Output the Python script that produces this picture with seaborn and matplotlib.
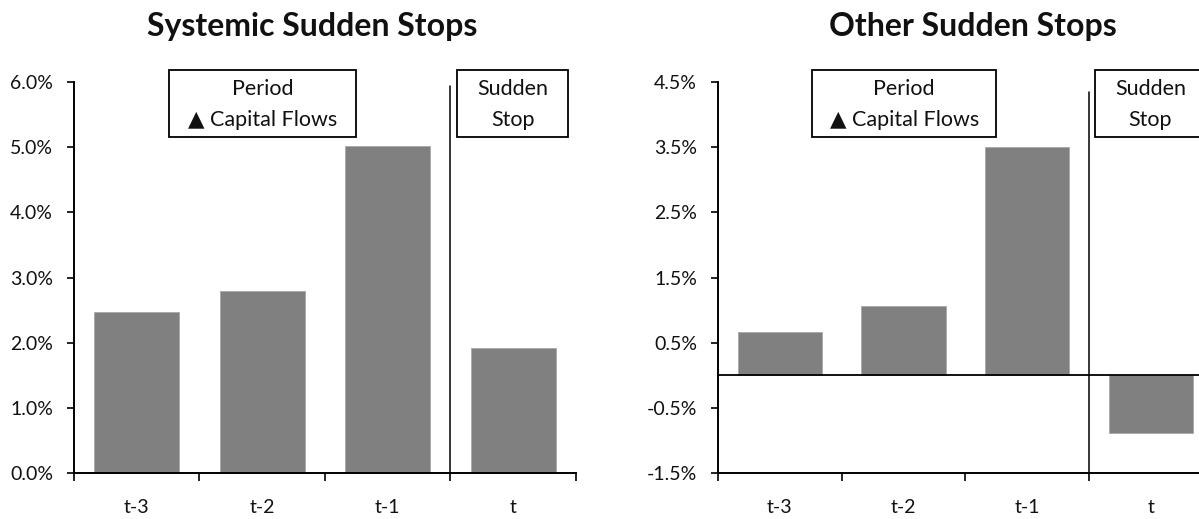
import matplotlib
matplotlib.use("Agg")
import matplotlib.pyplot as plt
from matplotlib.patches import Rectangle
from matplotlib.ticker import FixedLocator, FuncFormatter
import seaborn as sns
import pandas as pd

sns.set_style("white")
plt.rcParams["font.family"] = ["Lato", "DejaVu Sans"]

# Capital-flow change by period around the sudden stop (% of GDP)
periods = ["t-3", "t-2", "t-1", "t"]
systemic_values = [2.47, 2.79, 5.02, 1.92]
other_values = [0.66, 1.06, 3.50, -0.88]

systemic_ticks = [0.0, 1.0, 2.0, 3.0, 4.0, 5.0, 6.0]
other_ticks = [-1.5, -0.5, 0.5, 1.5, 2.5, 3.5, 4.5]

titles = ["Systemic Sudden Stops", "Other Sudden Stops"]
period_lines = ["Period", "\u25B2 Capital Flows"]
stop_lines = ["Sudden", "Stop"]

BAR = "#808080"
INK = "#111111"

fig = plt.figure(figsize=(11.99, 5.19), dpi=100)

panels = [
    dict(rect=[0.0617, 0.0886, 0.4187, 0.7534], values=systemic_values,
         ticks=systemic_ticks, title=titles[0], title_x=0.260, sep_top=0.99,
         zero_line=False),
    dict(rect=[0.5988, 0.0886, 0.4128, 0.7534], values=other_values,
         ticks=other_ticks, title=titles[1], title_x=0.811, sep_top=0.975,
         zero_line=True),
]


def label_box(ax, x0, x1, lines):
    """Framed two-line label spanning x0..x1 (data) above the plot area."""
    trans = ax.get_xaxis_transform()
    ax.add_patch(Rectangle((x0, 0.859), x1 - x0, 0.172, transform=trans,
                           fc="white", ec="black", lw=1.3, clip_on=False,
                           zorder=5))
    xc = (x0 + x1) / 2
    for y, s in zip((0.983, 0.903), lines):
        ax.text(xc, y, s, transform=trans, ha="center", va="center",
                fontsize=15.5, color=INK, zorder=6, clip_on=False)


for p in panels:
    ax = fig.add_axes(p["rect"])
    df = pd.DataFrame({"period": periods, "value": p["values"]})
    sns.barplot(data=df, x="period", y="value", color=BAR, width=0.68,
                edgecolor="#a8a8a8", linewidth=0.6, saturation=1, ax=ax)

    ax.set_xlim(-0.5, 3.5)
    ax.set_ylim(p["ticks"][0], p["ticks"][-1])
    ax.set_xlabel("")
    ax.set_ylabel("")

    # y axis: percent labels with outward ticks
    ax.yaxis.set_major_locator(FixedLocator(p["ticks"]))
    ax.yaxis.set_major_formatter(FuncFormatter(lambda v, _: f"{v:.1f}%"))
    ax.tick_params(axis="y", which="major", left=True, direction="out",
                   length=5, width=1.2, color="black", pad=10,
                   labelsize=14, labelcolor=INK)

    # x axis: labels at category centres, tick marks at category boundaries
    ax.set_xticks(range(len(periods)))
    ax.set_xticklabels(periods)
    ax.set_xticks([-0.5, 0.5, 1.5, 2.5, 3.5], minor=True)
    ax.tick_params(axis="x", which="major", bottom=False, length=0, pad=19,
                   labelsize=14, labelcolor=INK)
    ax.tick_params(axis="x", which="minor", bottom=True, direction="out",
                   length=6, width=1.2, color="black")

    for side in ("top", "right"):
        ax.spines[side].set_visible(False)
    for side in ("left", "bottom"):
        ax.spines[side].set_color("black")
        ax.spines[side].set_linewidth(1.4)

    if p["zero_line"]:
        ax.axhline(0, color="black", lw=1.3, zorder=3)

    # divider between the run-up periods and the sudden-stop period
    ax.plot([2.5, 2.5], [0, p["sep_top"]], color="black", lw=1.1,
            transform=ax.get_xaxis_transform(), clip_on=False, zorder=3)

    label_box(ax, 0.26, 1.75, period_lines)
    label_box(ax, 2.55, 3.44, stop_lines)

    fig.text(p["title_x"], 0.948, p["title"], ha="center", va="center",
             fontsize=23, fontweight="bold", color=INK)

fig.savefig("out.png", dpi=100)
